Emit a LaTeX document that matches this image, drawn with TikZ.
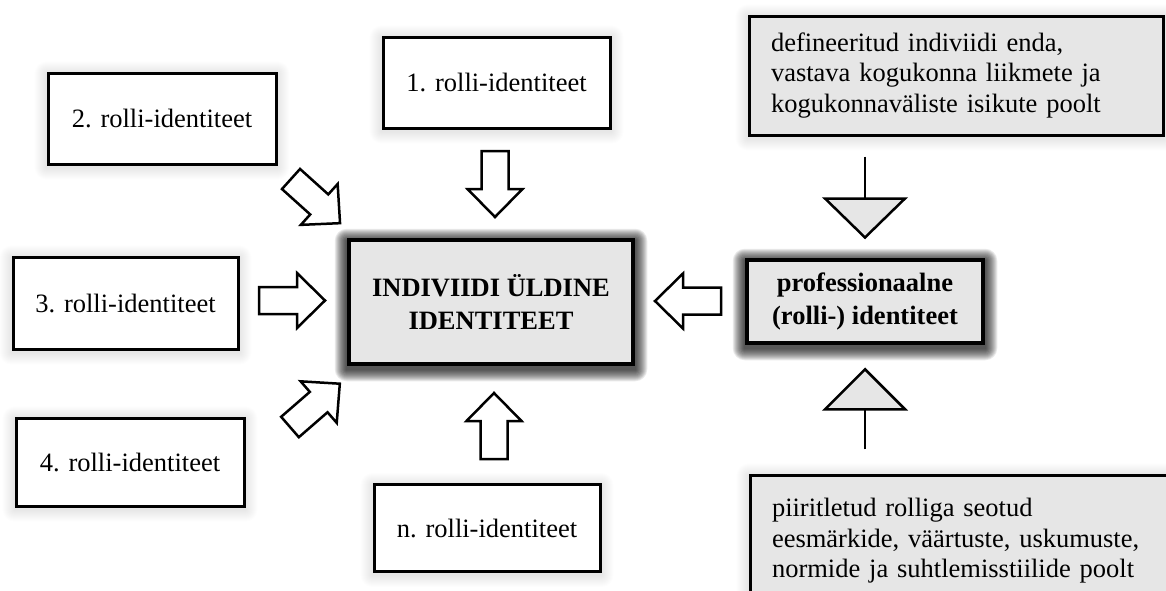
\documentclass[tikz,border=0pt]{standalone}
\usepackage{fontspec}
\setmainfont{Liberation Serif}
\usetikzlibrary{backgrounds,calc}
\definecolor{boxgray}{HTML}{E6E6E6}

% soft halo round a node: #1 node, #2 layers, #3 opacity per layer, #4 downward offset
\newcommand\haloaround[4]{%
  \foreach \i in {1,...,#2}{%
    \fill[black,opacity=#3,rounded corners=\i pt]
      ([shift={(-\i,-\i+#4)}]#1.north west) rectangle ([shift={(\i,\i+#4)}]#1.south east);
  }%
}

\tikzset{
  txt/.style={font=\fontsize{26.5}{30.5}\selectfont},
  rolebox/.style={txt,draw,line width=3,fill=white,inner sep=0,
    minimum width=227,minimum height=91},
  notebox/.style={txt,draw,line width=3,fill=boxgray,inner xsep=22,inner ysep=0,
    align=left},
  mainbox/.style={draw,line width=4.5,fill=boxgray,inner sep=0,align=center,
    font=\fontsize{26.5}{33.5}\selectfont\bfseries},
  arrowline/.style={draw,line width=2.5,fill=white,line join=miter},
  tri/.style={draw,line width=2.5,fill=boxgray,line join=miter},
  stem/.style={line width=2.5},
  barrow/.pic={
    \path[arrowline] (0,-13.5) -- (38,-13.5) -- (38,-27.5) -- (66,0)
      -- (38,27.5) -- (38,13.5) -- (0,13.5) -- cycle;
  }
}

\begin{document}
\begin{tikzpicture}[x=1pt,y=-1pt]
\useasboundingbox (0,0) rectangle (1166,590);
\clip (0,0) rectangle (1166,590);

% role identities
\node[rolebox] (r1) at (496.5,82.5) {1. rolli-identiteet};
\node[rolebox,minimum width=228] (r2) at (162,118.5) {2. rolli-identiteet};
\node[rolebox,minimum width=225,minimum height=92] (r3) at (125.5,303) {3. rolli-identiteet};
\node[rolebox,minimum width=228,minimum height=88] (r4) at (130,462) {4. rolli-identiteet};
\node[rolebox,minimum width=226,minimum height=87] (rn) at (487,528) {n. rolli-identiteet};

% general identity and professional identity
\node[mainbox,minimum width=284,minimum height=124] (core) at (491,302)
  {INDIVIIDI ÜLDINE\\IDENTITEET};
\node[mainbox,minimum width=236,minimum height=83] (prof) at (865,301.5)
  {professionaalne\\(rolli-) identiteet};

% defining sources
\node[notebox,text width=370,minimum height=119] (gtop) at (956,75.5)
  {defineeritud indiviidi enda,\\vastava kogukonna liikmete ja\\kogukonnaväliste isikute poolt};
\node[notebox,text width=386,minimum height=132] (gbot) at (965,541)
  {piiritletud rolliga seotud\\eesmärkide, väärtuste, uskumuste,\\normide ja suhtlemisstiilide poolt};

% halos behind the boxes
\begin{scope}[on background layer]
  \haloaround{core}{12}{0.085}{3}
  \haloaround{prof}{12}{0.085}{3}
  \foreach \b in {r1,r2,r3,r4,rn,gtop,gbot}{\haloaround{\b}{12}{0.006}{2}}
\end{scope}

% block arrows towards the general identity
\pic[rotate=-90] at (495,151) {barrow};
\pic[rotate=90] at (494,459) {barrow};
\pic at (259,300.5) {barrow};
\pic[rotate=-42] at (291,179) {barrow};
\pic[rotate=41] at (290,427) {barrow};
\pic[rotate=180] at (721,301) {barrow};

% triangle connectors into the professional identity
\path (prof.north |- gtop.south) ++(0,20) coordinate (d0)
      ++(0,42) coordinate (d1) ++(0,39) coordinate (d2);
\draw[stem] (d0) -- (d1);
\path[tri] (d1) ++(-40,0) -- ++(80,0) -- (d2) -- cycle;

\path (prof.south) ++(0,24) coordinate (u2)
      ++(0,40) coordinate (u1) ++(0,40) coordinate (u0);
\draw[stem] (u0) -- (u1);
\path[tri] (u1) ++(-40,0) -- ++(80,0) -- (u2) -- cycle;
\end{tikzpicture}
\end{document}
